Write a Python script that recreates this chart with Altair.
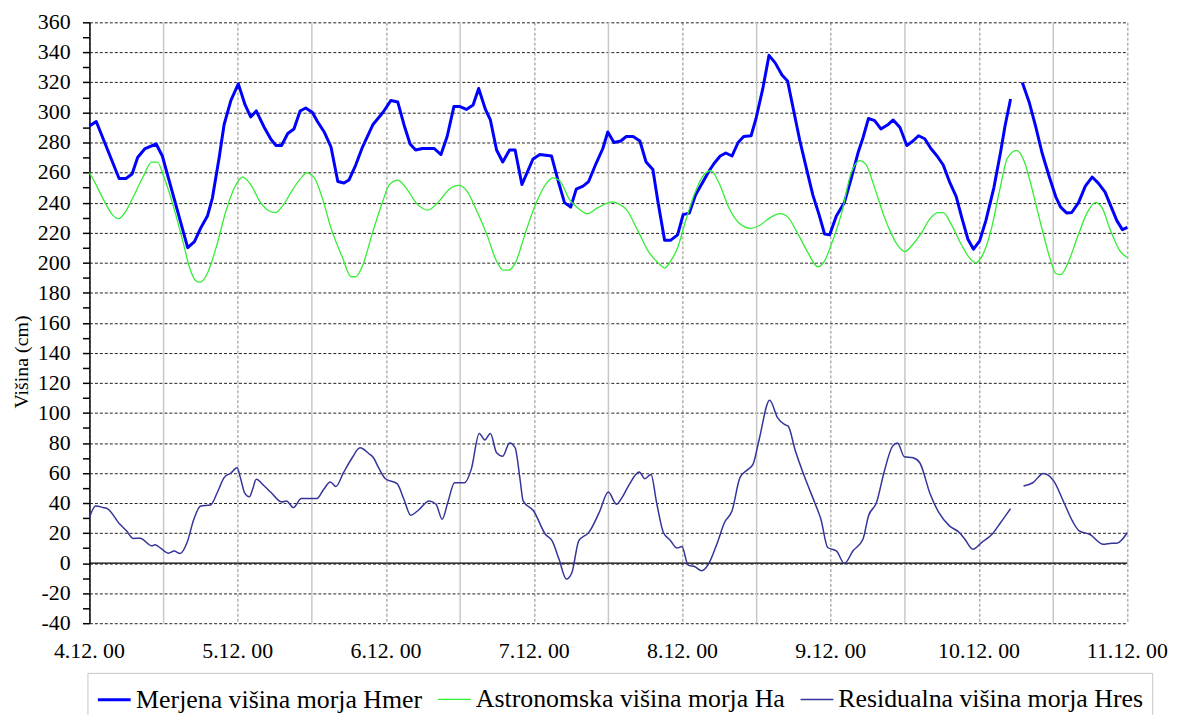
import altair as alt
import pandas as pd

# ---------------- data (hours since 4.12.00 00:00) ----------------
S_MER = "Merjena višina morja Hmer"
S_AST = "Astronomska višina morja Ha"
S_RES = "Residualna višina morja Hres"
Y_TITLE = "Višina (cm)"

hmer_h = [0, 1.1, 4.8, 5.9, 6.9, 7.8, 9.0, 10.8, 11.8, 15.9, 17.0, 18.0, 19.1, 19.9, 21.0, 21.8,
          22.9, 24.1, 25.2, 26.1, 27.0, 28.3, 29.4, 30.2, 31.1, 32.1, 33.1, 34.1, 35.0, 36.1, 36.9,
          38.0, 39.1, 40.2, 41.2, 42.0, 43.1, 44.2, 45.9, 47.5, 48.8, 49.9, 50.9, 51.9, 52.8, 53.9,
          55.8, 56.9, 57.9, 59.0, 59.9, 61.0, 62.1, 63.0, 64.1, 64.9, 65.9, 66.9, 68.0, 68.9, 70.0,
          71.8, 72.9, 74.8, 75.9, 76.9, 77.9, 78.8, 79.9, 80.8, 82.0, 83.1, 83.9, 84.9, 86.0, 86.9,
          88.0, 89.1, 90.1, 91.2, 92.0, 93.1, 94.1, 95.2, 96.1, 97.1, 98.1, 99.2, 100.3, 101.1,
          102.1, 103.0, 104.0, 105.0, 105.9, 107.1, 107.9, 109.0, 110.0, 111.0, 112.1, 113.0, 113.9,
          115.0, 116.1, 117.1, 118.1, 119.0, 119.8, 120.9, 122.2, 123.3, 124.4, 125.2, 126.1, 127.1,
          128.1, 129.3, 130.1, 131.2, 132.3, 133.3, 134.2, 135.2, 136.2, 137.2, 138.2, 139.2, 140.3,
          141.2, 142.2, 143.1, 144.1, 145.1, 146.4, 147.5, 148.2, 149.1,
          151.0, 152.1, 153.2, 154.2, 155.3, 156.4, 157.2, 158.2, 159.0, 160.1, 161.2, 162.3,
          163.3, 164.4, 165.2, 166.3, 167.2, 168.0]
hmer_v = [291, 294, 256, 256, 259, 270, 276, 279, 271, 210, 214, 223, 231, 243, 270, 292,
          308, 319, 305, 297, 301, 290, 282, 278, 278, 286, 289, 301, 303, 300, 294,
          287, 277, 254, 253, 255, 265, 277, 292, 300, 308, 307, 292, 279, 275, 276,
          276, 272, 284, 304, 304, 302, 305, 316, 302, 295, 275, 267, 275, 275, 252,
          269, 272, 271, 254, 240, 237, 249, 251, 254, 266, 276, 287, 280, 281, 284,
          284, 281, 267, 262, 241, 215, 215, 218.5, 232, 233, 245, 253, 261, 266,
          271, 273, 271, 280, 284, 284.5, 296, 316, 338, 333, 325, 321, 303,
          281, 262, 245, 232, 219, 218.5, 231, 240, 256, 273, 283, 296, 294.5,
          289, 292, 295, 290, 278, 281, 284.5, 282.5, 276, 271, 265, 254, 244,
          230, 215.6, 209, 214.5, 228, 250, 274, 291, 309,
          320, 307, 290, 273, 258, 244, 237, 233, 233.4, 240, 251, 257,
          253, 247, 239, 228, 222, 223.5]

ha_h = [0, 0.8, 2.4, 3.7, 4.7, 5.8, 7.0, 8.6, 10.1, 11.0, 12.1, 13.5, 15.1, 16.2, 17.2, 17.9,
        19.1, 20.5, 22.1, 23.6, 24.8, 26.1, 27.7, 29.1, 30.1, 31.3, 32.9, 34.5, 35.1, 36.4, 37.7,
        39.1, 41.0, 42.3, 43.1, 44.2, 45.9, 47.5, 48.5, 49.9, 51.2, 53.1, 54.8, 56.6, 58.2, 59.8,
        61.1, 62.7, 64.3, 65.9, 67.0, 67.8, 68.9, 70.5, 72.1, 74.0, 75.0, 76.1, 77.7, 79.3, 80.6,
        82.3, 84.7, 85.8, 86.9, 88.8, 90.6, 92.3, 93.1, 94.1, 95.2, 96.5, 97.9, 99.5, 100.6,
        101.9, 103.5, 105.1, 107.0, 108.3, 110.2, 111.8, 113.1, 114.7, 116.3, 117.9, 119.0,
        120.1, 121.7, 123.3, 124.7, 125.7, 127.1, 128.7, 129.6, 130.7, 132.0, 133.3, 134.7,
        136.0, 137.4, 138.2, 139.5, 141.1, 142.4, 143.5, 144.5, 145.9, 147.3, 148.6, 150.1,
        151.3, 152.4, 154.0, 155.6, 156.4, 157.2, 158.2, 159.9, 161.5, 162.8, 163.9, 165.2,
        166.8, 168.0]
ha_v = [260, 254, 241, 232, 229.3, 233.7, 243, 256.5, 267, 267, 256.5, 238.8, 214.5, 196.8, 188, 187,
        193, 210, 234.4, 251, 257, 252, 240, 234.4, 233.3, 238, 248.7, 257.6, 259.8, 256.5, 243,
        223, 203, 190.8, 190.6, 198, 221, 241, 251.6, 255, 250, 238.8, 235, 241, 248.7, 251.4,
        247.6, 234.4, 219, 201, 195, 195, 199.5, 219, 237.7, 253, 256.5, 254.7, 242, 235.5, 232.6,
        236.6, 240.5, 238.8, 235.5, 221, 206.7, 199, 196.4, 201.2, 210, 227.7, 245.4, 258.7, 261.3,
        253, 236.6, 226.6, 222.9, 224.4, 230, 232.6, 230, 219, 206.7, 197.2, 201.2,
        212.3, 232.3, 259.8, 268, 265.3, 249.8, 230, 221, 212.3, 207.4, 212.3, 220,
        229, 233.3, 233.3, 225.5, 212.3, 203.4, 200, 204.5, 221, 247.6, 269.7, 274.8,
        267.5, 252, 225.5, 201.2, 192.8, 192, 198, 216.7, 233.3, 240, 236.6, 222.2,
        207.8, 203.4]

hres_h = [0, 1.0, 2.2, 3.0, 4.9, 6.0, 7.1, 8.2, 10.1, 10.6, 11.5, 12.8, 13.7, 14.7, 15.8, 16.9,
          18.0, 19.6, 20.7, 21.8, 22.9, 23.9, 24.5, 25.1, 25.9, 26.4, 27.0, 28.3, 29.4, 31.1, 31.9,
          33.0, 34.3, 36.8, 37.9, 39.0, 39.9, 41.1, 42.5, 43.8, 45.2, 46.0, 46.8, 47.9, 49.8, 50.9,
          52.0, 53.1, 55.0, 56.1, 57.1, 58.0, 59.1, 60.7, 61.8, 63.1, 64.0, 64.9, 65.9, 66.9, 68.0,
          68.9, 69.7, 70.2, 71.9, 73.8, 74.9, 76.0, 77.2, 78.1, 79.2, 80.9, 82.5, 84.0, 85.3, 86.2,
          87.3, 89.0, 89.9, 90.9, 91.8, 92.9, 94.0, 95.1, 95.9, 96.9, 98.0, 99.1, 100.2, 101.5,
          102.8, 104.0, 105.3, 106.6, 107.4, 108.4, 110.1, 111.4, 112.5, 113.1, 114.2, 115.6,
          117.5, 118.4, 119.5, 120.9, 122.2, 123.6, 125.2, 126.1, 127.4, 128.6, 130.0, 130.8,
          131.9, 133.3, 134.4, 136.1, 137.5, 139.2, 140.8, 141.7, 143.0, 144.4, 146.1, 147.5, 149.1,
          151.2, 152.7, 154.4, 156.1, 157.7, 159.1, 160.2, 161.9, 164.1, 165.5, 166.3, 168.0]
hres_v = [30.3, 38, 37, 36, 26, 21.5, 16.4, 16.6, 11.5, 12.2, 10, 6.6, 8, 6.4, 13.7, 29.2,
          38, 38.7, 47, 56.9, 60, 63.5, 55.8, 47, 44.2, 49, 55.8, 51.3, 47, 40.7, 41.4,
          37, 43, 43, 49, 54, 51, 60, 70, 76.8, 73, 70, 63.5, 56.2, 52.9, 42.5,
          31.9, 34.7, 41.4, 39.2, 29.2, 40.3, 53.5, 53.5, 62.4, 86.3, 82, 86.3, 73.5, 71.2, 80,
          76.8, 55.8, 41.4, 34.7, 19.2, 14.8, 2.7, -10.6, -6.2, 14.8, 20.8, 33.6, 47.3, 39.2, 43.6,
          51.8, 60.6, 56.2, 59, 40.3, 20.4, 15.3, 10, 11, -1.3, -2.4, -5.1, -0.7, 12,
          27, 34.7, 56.9, 62.4, 65.7, 82.3, 108.4, 96.7, 92.3, 91.2, 75.7, 59.1,
          39.2, 29.2, 10.4, 8.2, -0.2, 8.2, 15.9, 31.4, 40.3, 60.2, 77.9, 80,
          70.8, 70.1, 66.8, 45.8, 33.6, 24.8, 20.4, 15.9, 9.3, 13.7, 19.2, 27, 36.3,
          51.3, 53.5, 59.7, 54.6, 40.7, 28.1, 21.5, 19.2, 12.6, 13.3, 13.3, 20.4]

gap_start = 150  # missing hour: lines break here

day_ticks = [0, 24, 48, 72, 96, 120, 144, 168]
day_labels = ["4.12. 00", "5.12. 00", "6.12. 00", "7.12. 00", "8.12. 00", "9.12. 00", "10.12. 00", "11.12. 00"]
half_days = [12, 36, 60, 84, 108, 132, 156]
y_ticks = list(range(-40, 361, 10))
y_label_vals = list(range(-40, 361, 20))

# ---------------- tables ----------------
def series_df(name, hs, vs):
    return pd.DataFrame({"h": hs, "v": vs, "series": name,
                         "seg": [0 if h < gap_start else 1 for h in hs]})

df_mer = series_df(S_MER, hmer_h, hmer_v)
df_ast = series_df(S_AST, ha_h, ha_v)
df_ast["seg"] = 0
df_res = series_df(S_RES, hres_h, hres_v)

df_half = pd.DataFrame({"h": half_days})
df_zero = pd.DataFrame({"v": [0]})
df_xlab = pd.DataFrame({"h": day_ticks, "lab": day_labels})
df_ylab = pd.DataFrame({"v": y_label_vals, "lab": [str(v) for v in y_label_vals]})
df_title = pd.DataFrame({"t": [Y_TITLE]})

FONT = "Liberation Serif"
TFONT = "Liberation Serif, DejaVu Serif, serif"

xaxis = alt.Axis(values=day_ticks, labels=False, title=None,
                 grid=True, gridColor="#8a8a8a", gridDash=[3, 2], gridWidth=1,
                 ticks=False, domain=False)
yaxis = alt.Axis(values=y_ticks, labels=False, title=None,
                 grid=True, gridColor="#222222", gridDash=[3, 2], gridWidth=1,
                 gridOpacity={"condition": {"test": "datum.value % 20 != 0", "value": 0}, "value": 1},
                 tickSize=7, tickColor="black", tickWidth=1.5,
                 domain=True, domainColor="black", domainWidth=1.5)

X = alt.X("h:Q", scale=alt.Scale(domain=[0, 168], nice=False, zero=False), axis=xaxis)
Y = alt.Y("v:Q", scale=alt.Scale(domain=[-40, 360], nice=False, zero=False), axis=yaxis)

domain = [S_MER, S_AST, S_RES]
leg = dict(orient="none", legendX=-2, legendY=655, direction="horizontal",
           title=None, symbolType="stroke", symbolSize=1089,
           labelFont=FONT, labelFontSize=26, labelColor="black",
           labelOffset=4, columnPadding=12, padding=9,
           strokeColor="#c8c8c8", labelLimit=400)
color = alt.Color("series:N", scale=alt.Scale(domain=domain, range=["#0000ff", "#33ee33", "#34349a"]),
                  legend=alt.Legend(**leg))
sw = alt.StrokeWidth("series:N", scale=alt.Scale(type="ordinal", domain=domain, range=[3, 1.3, 1.5]),
                     legend=alt.Legend(**leg))

half_rules = alt.Chart(df_half).mark_rule(color="#c8c8c8", strokeWidth=1.5).encode(x=X)
zero_rule = alt.Chart(df_zero).mark_rule(color="black", strokeWidth=1.5).encode(y=Y)

l_mer = alt.Chart(df_mer).mark_line(strokeJoin="round").encode(x=X, y=Y, color=color, strokeWidth=sw, detail="seg:N")
l_ast = alt.Chart(df_ast).mark_line(interpolate="monotone").encode(x=X, y=Y, color=color, strokeWidth=sw, detail="seg:N")
l_res = alt.Chart(df_res).mark_line(interpolate="monotone").encode(x=X, y=Y, color=color, strokeWidth=sw, detail="seg:N")

# axis labels as text marks positioned through the scales
xlabels = alt.Chart(df_xlab).mark_text(font=TFONT, fontSize=22, color="black", align="center",
                                       baseline="top", dy=18).encode(
    x=X, y=alt.value(605), text="lab:N")
ylabels = alt.Chart(df_ylab).mark_text(font=TFONT, fontSize=22, color="black", align="right",
                                       baseline="middle", dx=-19).encode(
    x=alt.value(0), y=Y, text="lab:N")
ytitle = alt.Chart(df_title).mark_text(font=TFONT, fontSize=20, color="black", align="center",
                                       baseline="middle", angle=270).encode(
    x=alt.value(-68), y=alt.value(342), text="t:N")

chart = alt.layer(half_rules, zero_rule, l_mer, l_ast, l_res, xlabels, ylabels, ytitle).properties(
    width=1045, height=605,
    autosize=alt.AutoSizeParams(type="none"),
    padding={"left": 82, "top": 12, "right": 50, "bottom": 90},
).configure(background="white").configure_view(stroke=None).configure_legend(labelFont=FONT)

chart.save("out.html", embed_options={"renderer": "svg", "actions": False})
